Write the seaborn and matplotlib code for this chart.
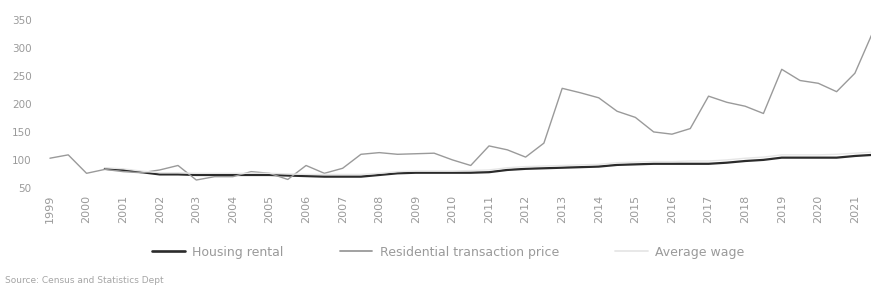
import numpy as np
import pandas as pd
import matplotlib
matplotlib.use("Agg")
import matplotlib.pyplot as plt
from matplotlib.lines import Line2D
import seaborn as sns

sns.set_theme(style="white", context="paper")
plt.rcParams['font.family'] = ['DejaVu Sans']

# --- data (half-yearly) ---
years = [str(y) for y in range(1999, 2022)]
periods = [1999 + 0.5 * i for i in range(46)]

residential = [103, 109, 76, 83, 79, 77, 82, 90, 64, 70, 70, 79, 76, 65, 90, 76,
               85, 110, 113, 110, 111, 112, 100, 90, 125, 118, 105, 130, 228, 220,
               211, 187, 176, 150, 146, 156, 214, 203, 196, 183, 262, 242, 237, 222,
               255, 330]

housing = [None, None, None, 84, 82, 78, 74, 74, 73, 73, 73, 73, 73, 72, 71, 70,
           70, 70, 73, 76, 77, 77, 77, 77, 78, 82, 84, 85, 86, 87, 88, 91, 92, 93,
           93, 93, 93, 95, 98, 100, 104, 104, 104, 104, 107, 109]

wage = [None, None, None, 86, 84, 80, 77, 77, 76, 76, 76, 76, 76, 75, 74, 74,
        74, 74, 76, 79, 80, 80, 80, 81, 82, 86, 88, 89, 90, 91, 92, 95, 96, 97,
        97, 98, 98, 100, 103, 105, 109, 109, 109, 110, 112, 114]

series_names = ["Housing rental", "Residential transaction price", "Average wage"]

df = pd.DataFrame({
    "period": periods * 3,
    "value": housing + residential + wage,
    "series": [series_names[0]] * 46 + [series_names[1]] * 46 + [series_names[2]] * 46,
}).dropna()

fig = plt.figure(figsize=(8.71, 2.95), dpi=100)
ax = fig.add_axes([0.046, 0.353, 0.954, 0.63])

palette = {series_names[0]: "#2b2b2b", series_names[1]: "#9a9a9a", series_names[2]: "#e6e6e6"}
sizes = {series_names[0]: 1.6, series_names[1]: 1.0, series_names[2]: 1.0}

sns.lineplot(data=df, x="period", y="value", hue="series", size="series",
             sizes=sizes, palette=palette, hue_order=series_names,
             size_order=series_names, ax=ax, legend=False)

ax.set_xlim(1998.73, 2021.44)
ax.set_ylim(44.6, 377)
ax.set_yticks([50, 100, 150, 200, 250, 300, 350])
ax.set_xticks(range(1999, 2022))
ax.set_xticklabels(years, rotation=90)
ax.tick_params(axis='y', labelsize=7.5, labelcolor="#9a9a9a", length=0, pad=6)
ax.tick_params(axis='x', labelsize=8, labelcolor="#9a9a9a", length=0, pad=3)
ax.set_xlabel("")
ax.set_ylabel("")
for s in ax.spines.values():
    s.set_visible(False)

# legend below the plot
handles = [Line2D([0], [0], color=palette[n], lw=sizes[n] + 0.3) for n in series_names]
fig.legend(handles, series_names, loc="center left", bbox_to_anchor=(0.162, 0.145),
           ncol=3, frameon=False, fontsize=9, labelcolor="#9a9a9a",
           handlelength=2.6, handletextpad=0.6, columnspacing=4.5)

fig.text(0.006, 0.04, "Source: Census and Statistics Dept", fontsize=6.5, color="#a5a5a5")

fig.savefig("out.png", dpi=100)
